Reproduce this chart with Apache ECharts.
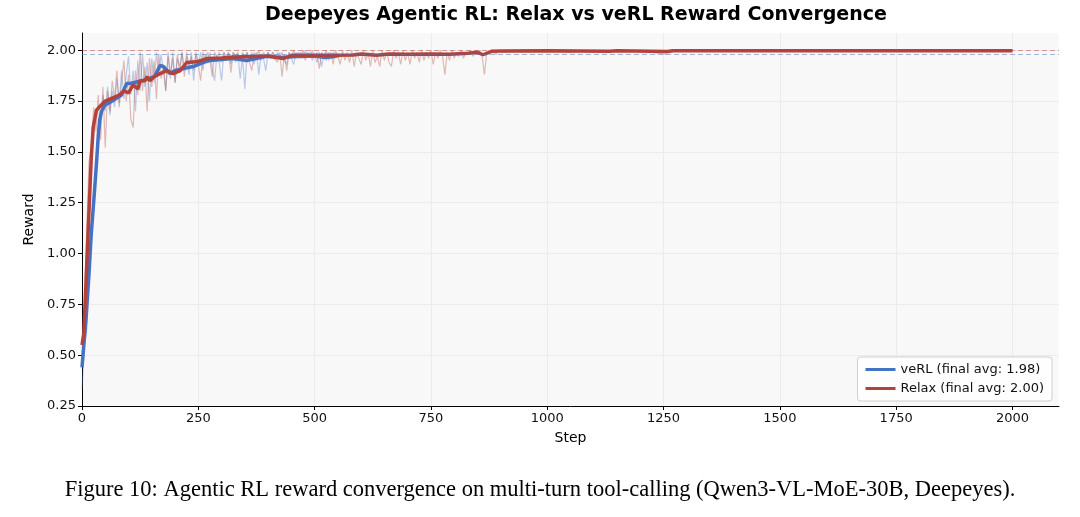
<!DOCTYPE html>
<html>
<head>
<meta charset="utf-8">
<script src="https://cdn.jsdelivr.net/npm/echarts@6/dist/echarts.min.js"></script>
<style>
html,body{margin:0;padding:0;background:#fff;}
#chart{width:1080px;height:517px;}
</style>
</head>
<body>
<div id="chart"></div>
<script>
// ---------- DATA ----------
const titleText = 'Deepeyes Agentic RL: Relax vs veRL Reward Convergence';
const captionText = 'Figure 10: Agentic RL reward convergence on multi-turn tool-calling (Qwen3-VL-MoE-30B, Deepeyes).';
const xTicks = [0, 250, 500, 750, 1000, 1250, 1500, 1750, 2000];
const yTicks = [0.25, 0.5, 0.75, 1.0, 1.25, 1.5, 1.75, 2.0];
const verlName = 'veRL (final avg: 1.98)';
const relaxName = 'Relax (final avg: 2.00)';
const verlFinalAvg = 1.98;
const relaxFinalAvg = 2.00;

// raw rewards sampled every 5 steps
const rawStride = 5;
const verlRaw = [
 0.33,0.55,0.62,1.00,1.05,1.30,1.38,1.60,1.66,1.78,
 1.70,1.82,1.68,1.80,1.72,1.86,1.74,1.90,1.76,1.88,
 1.97,1.78,1.90,1.70,1.95,1.80,1.98,1.82,1.94,1.75,
 1.96,1.84,1.99,1.88,1.98,1.90,1.80,1.97,1.86,1.99,
 1.84,1.96,1.92,1.99,1.90,1.97,1.88,1.99,1.85,1.98,
 1.93,1.99,1.90,1.98,1.95,1.99,1.91,1.85,1.98,1.94,
 1.85,1.99,1.95,1.99,1.93,1.99,1.94,1.98,1.86,1.97,
 1.81,1.99,1.95,1.99,1.93,1.99,1.88,1.98,1.96,1.90,
 1.99,1.96,1.99,1.95,1.99,1.97,1.99,1.95,1.93,1.99,
 1.96,1.93,1.99,1.97,1.99,1.96,2.00,1.97,1.99,1.95,
 1.98,1.94,1.99,1.92,1.98,1.95,1.99,1.96,1.99,1.97,
 1.98
];
const relaxRaw = [
 0.50,0.72,1.10,1.45,1.52,1.72,1.60,1.78,1.56,1.82,
 1.52,1.80,1.70,1.85,1.76,1.90,1.72,1.84,1.95,1.75,
 1.88,1.66,1.62,1.90,1.78,1.99,1.80,1.92,1.70,1.96,
 1.82,1.95,1.76,1.98,1.86,1.93,1.80,1.99,1.88,1.96,
 1.84,1.98,1.89,1.99,1.87,1.99,1.92,1.97,1.90,1.99,
 1.93,1.85,1.99,1.94,1.99,1.95,1.87,1.99,1.96,1.99,
 1.94,1.99,1.96,1.99,1.89,1.99,1.97,1.99,1.95,1.99,
 1.96,1.99,1.94,1.90,1.99,1.97,2.00,1.95,1.99,1.97,
 1.99,1.96,1.99,1.97,1.94,1.99,1.87,1.98,1.90,1.99,
 1.97,2.00,1.96,1.99,1.97,2.00,1.95,1.99,1.97,2.00,
 1.96,1.99,1.91,1.99,1.97,2.00,1.95,1.99,1.93,2.00,
 1.97,1.93,2.00,1.95,1.99,1.94,2.00,1.92,1.99,1.96,
 1.93,2.00,1.95,1.99,1.92,2.00,1.94,1.97,1.92,2.00,
 1.95,1.99,1.94,1.92,2.00,1.96,1.99,1.93,2.00,1.95,
 1.99,1.93,2.00,1.96,1.99,1.94,2.00,1.95,1.99,1.96,
 2.00,1.93,1.99,1.96,2.00,1.97,1.88,1.99,1.95,2.00,
 1.96,1.99,1.97,2.00,1.96,1.99,1.98,2.00,1.97,1.99,
 1.98,2.00,1.97,1.88,1.99,1.98,2.00,1.99,1.98,2.00,
 1.99
];
const relaxRawTailSteps = [950,1000,1050,1100,1130,1150,1200,1255,1260,1300,1400,1500,1600,1700,1800,1900,2000];
const relaxRawTail      = [2.00,2.00,1.99,2.00,1.99,2.00,2.00,1.98,2.00,2.00,2.00,2.00,2.00,2.00,2.00,2.00,2.00];

// smoothed (moving average) curves
const verlSmoothSteps = [0,3,9,15,20,26,31,35,38,42,49,63,67,85,96,106,110,135,156,168,175,189,199,218,239,267,275,325,354,397,430,468,500,520,540,554];
const verlSmooth      = [0.44,0.44,0.69,0.90,1.10,1.28,1.44,1.58,1.656,1.70,1.73,1.748,1.754,1.78,1.836,1.838,1.84,1.854,1.87,1.926,1.92,1.885,1.90,1.91,1.92,1.945,1.95,1.96,1.95,1.97,1.965,1.97,1.972,1.965,1.968,1.975];
const relaxSmoothSteps = [0,4,13,20,24,31,41,50,60,70,80,90,100,110,120,125,135,140,146,155,168,182,196,211,225,246,268,300,325,369,400,432,451,500,540,583,600,633,660,700,750,790,830,850,862,880,900,1000,1134,1150,1259,1270,1500,1750,2000];
const relaxSmooth      = [0.55,0.61,1.10,1.475,1.62,1.705,1.73,1.75,1.76,1.77,1.78,1.80,1.79,1.83,1.81,1.85,1.85,1.87,1.85,1.87,1.885,1.90,1.885,1.90,1.94,1.943,1.959,1.962,1.967,1.97,1.972,1.959,1.975,1.975,1.975,1.977,1.982,1.975,1.982,1.98,1.982,1.98,1.985,1.99,1.978,1.995,1.997,1.998,1.995,1.998,1.994,1.998,1.998,1.998,1.998];

// ---------- BUILD ----------
const BLUE = '#4472c4';
const RED = '#b5423a';
function zip(xs, ys){ return xs.map((x,i)=>[x, ys[i]]); }
const verlRawPts = verlRaw.map((v,i)=>[i*rawStride, v]);
const relaxRawPts = relaxRaw.map((v,i)=>[i*rawStride, v]).concat(zip(relaxRawTailSteps, relaxRawTail));

const font = 'DejaVu Sans';
const chart = echarts.init(document.getElementById('chart'), null, {renderer:'canvas'});
chart.setOption({
  animation:false,
  backgroundColor:'#fff',
  title:{
    text:titleText, left:571, top:1, textAlign:'center',
    textStyle:{fontFamily:font, fontSize:19, fontWeight:'bold', color:'#000'}
  },
  grid:{left:82, right:21, top:33, bottom:111, show:true, backgroundColor:'#f8f8f8', borderWidth:0},
  legend:{
    orient:'vertical', right:28, bottom:116,
    data:[verlName, relaxName],
    icon:'rect', itemWidth:30, itemHeight:3, itemGap:6,
    padding:[6,8,6,8],
    backgroundColor:'rgba(255,255,255,0.85)', borderColor:'#d0d0d0', borderWidth:1, borderRadius:3,
    textStyle:{fontFamily:font, fontSize:13, color:'#111'}
  },
  xAxis:{
    type:'value', min:0, max:2100, interval:250,
    name:'Step', nameLocation:'middle', nameGap:25,
    nameTextStyle:{fontFamily:font, fontSize:14, color:'#000'},
    axisLine:{show:true, onZero:false, lineStyle:{color:'#000', width:1}},
    axisTick:{show:true, length:4, customValues:xTicks, lineStyle:{color:'#000'}},
    axisLabel:{fontFamily:font, fontSize:13, color:'#111', margin:6, customValues:xTicks,
      formatter:v=>String(v)},
    splitLine:{show:true, lineStyle:{color:'#ebebeb', width:1}}
  },
  yAxis:{
    type:'value', min:0.25, max:2.085, interval:0.25,
    name:'Reward', nameLocation:'middle', nameGap:45, nameRotate:90,
    nameTextStyle:{fontFamily:font, fontSize:14, color:'#000'},
    axisLine:{show:true, onZero:false, lineStyle:{color:'#000', width:1}},
    axisTick:{show:true, length:4, customValues:yTicks, lineStyle:{color:'#000'}},
    axisLabel:{fontFamily:font, fontSize:13, color:'#111', margin:6, customValues:yTicks,
      formatter:v=>v.toFixed(2)},
    splitLine:{show:true, lineStyle:{color:'#ebebeb', width:1}}
  },
  series:[
    {type:'line', name:'refLines', data:[], silent:true,
     markLine:{silent:true, symbol:'none', label:{show:false},
       data:[
         {yAxis:relaxFinalAvg, lineStyle:{color:RED, opacity:0.5, type:[5,3], width:1}},
         {yAxis:verlFinalAvg, lineStyle:{color:BLUE, opacity:0.5, type:[5,3], width:1}}
       ]}},
    {type:'line', name:'verlRaw', data:verlRawPts, symbol:'none', silent:true,
     lineStyle:{color:BLUE, width:1.2, opacity:0.35}, z:2},
    {type:'line', name:'relaxRaw', data:relaxRawPts, symbol:'none', silent:true,
     lineStyle:{color:RED, width:1.2, opacity:0.35}, z:2},
    {type:'line', name:verlName, data:zip(verlSmoothSteps, verlSmooth), symbol:'none',
     color:BLUE, lineStyle:{color:BLUE, width:3.5}, z:3},
    {type:'line', name:relaxName, data:zip(relaxSmoothSteps, relaxSmooth), symbol:'none',
     color:RED, lineStyle:{color:RED, width:3.5}, z:4}
  ],
  graphic:[
    {type:'text', left:'center', top:479,
     style:{text:captionText, font:'22.5px "Liberation Serif", "Times New Roman", serif', fill:'#000'}}
  ]
});
</script>
</body>
</html>
